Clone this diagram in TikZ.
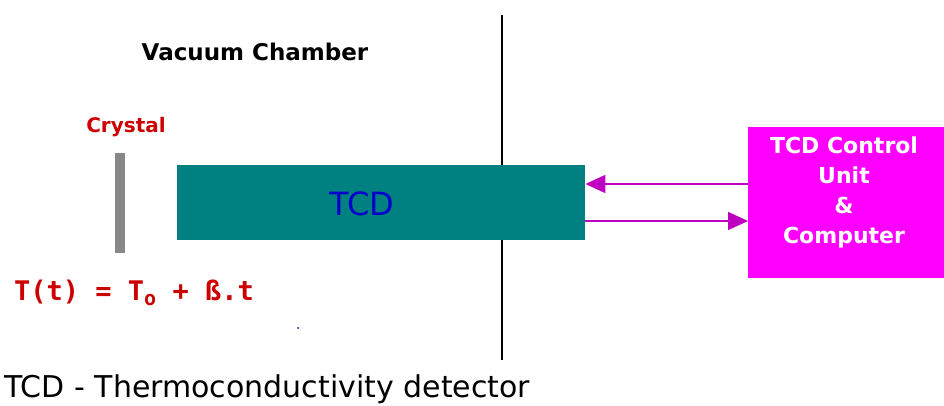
\documentclass[tikz,border=0pt]{standalone}
\usepackage{fontspec}
\setmainfont{DejaVu Sans}
\newfontfamily\monob{DejaVu Sans Mono}
\usetikzlibrary{arrows.meta}
\definecolor{teal1}{HTML}{008080}
\definecolor{mag}{HTML}{FF00FF}
\definecolor{arr}{HTML}{C000C0}
\definecolor{red1}{HTML}{CC0000}
\definecolor{gray1}{HTML}{888888}
\definecolor{blue1}{HTML}{0000CC}
\tikzset{
  lbl/.style={inner sep=0pt, font=\bfseries\fontsize{#1}{#1}\selectfont},
  link/.style={draw=arr, line width=1.5pt, -{Triangle[length=20pt,width=18pt]}},
}
\begin{document}
\begin{tikzpicture}[x=1pt,y=-1pt]
\useasboundingbox[fill=white] (0,0) rectangle (944,406);
% chamber wall
\coordinate (wt) at (502,15);
\coordinate (wb) at (502,360);
\draw[line width=1.2pt] (wt) -- (wb);
% labels
\node[lbl=23, anchor=center] (vc) at (255,52) {Vacuum Chamber};
\node[lbl=20, text=red1] (cr) at (126,127) {Crystal};
% crystal
\fill[gray1] (115,153) rectangle (125,253);
% TCD box
\node[fill=teal1, minimum width=408pt, minimum height=75pt, inner sep=0pt, anchor=north west] (tcd) at (177,165) {};
\node[inner sep=0pt, text=blue1, font=\fontsize{32}{32}\selectfont] (tcdl) at (362,204) {TCD};
% control unit
\node[fill=mag, minimum width=196pt, minimum height=151pt, inner sep=0pt, anchor=north west] (cu) at (748,127) {};
\node[inner sep=0pt, text=white, align=center, font=\bfseries\fontsize{22}{30}\selectfont] (cul) at (844,192) {TCD Control\\Unit\\\&\\Computer};
% arrows
\draw[link] (cu.west |- 0,184) -- (tcd.east |- 0,184);
\draw[link] (tcd.east |- 0,221) -- (cu.west |- 0,221);
% formula
\node[inner sep=0pt, anchor=west, text=red1, font=\monob\bfseries\fontsize{27}{27}\selectfont] (eq) at (14,293) {T(t) = T\raisebox{-5pt}{\fontsize{20}{20}\selectfont o} + ß.t};
\fill[blue1] (298,328) circle (1pt);
% caption
\node[inner sep=0pt, anchor=west, font=\fontsize{30}{30}\selectfont] (cap) at (4,389) {TCD - Thermoconductivity detector};
\end{tikzpicture}
\end{document}
